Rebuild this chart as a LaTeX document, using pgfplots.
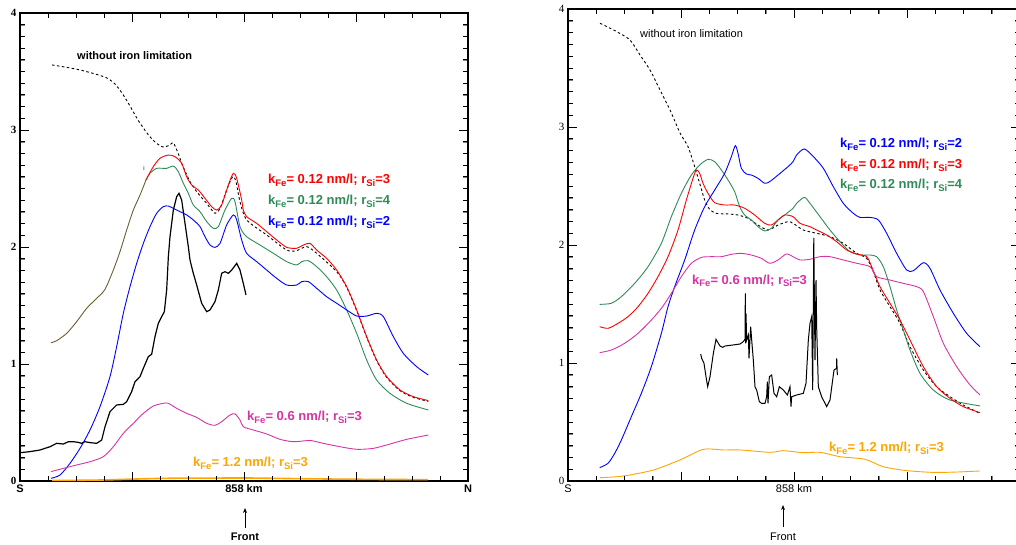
\documentclass[border=0pt]{standalone}
\usepackage{fontspec}
\setmainfont{Liberation Sans}
\newfontfamily\serifnum{Liberation Serif}
\usepackage{pgfplots}
\pgfplotsset{compat=1.18}
\usetikzlibrary{arrows.meta}

\definecolor{cred}{RGB}{255,0,0}
\definecolor{cgreen}{RGB}{46,139,87}
\definecolor{cblue}{RGB}{0,0,255}
\definecolor{cmag}{RGB}{214,51,164}
\definecolor{corange}{RGB}{255,165,0}
\definecolor{colive}{RGB}{105,95,50}

\newcommand{\sub}[1]{\raisebox{-3pt}{\fontsize{9.5}{10}\selectfont #1}}

\pgfplotsset{
  panel/.style={
    scale only axis, xmin=0, xmax=16, ymin=0, ymax=4,
    xtick={0,4,8,12,16}, xticklabels={S,,858 km,,N},
    minor x tick num=3,
    ytick={0,1,2,3,4}, yticklabels={0,1,2,3,4},
    minor y tick num=9,
    tick align=inside, tick pos=both,
    tickwidth=9pt, subtickwidth=5pt,
    axis line style={line width=1.1pt},
  },
  model/.style={line width=0.9pt, smooth, tension=0.45, mark=none},
  obs/.style={line width=1.2pt, black, mark=none},
}

\begin{document}
\begin{tikzpicture}
% ================= LEFT PANEL =================
\begin{axis}[panel, at={(20pt,63pt)}, anchor=south west, width=448pt, height=468pt,
  xticklabel style={font=\fontsize{11}{12}\selectfont\bfseries},
  yticklabel style={font=\fontsize{11}{12}\serifnum\bfseries}]
% without iron limitation
\addplot[model, black, dash pattern=on 2.5pt off 2.5pt] coordinates {
(1.143,3.556) (1.607,3.538) (2.143,3.513) (2.679,3.479) (3.107,3.444) (3.393,3.393) (3.643,3.316) (3.929,3.205) (4.214,3.085) (4.536,2.974) (4.821,2.897) (5.107,2.855) (5.357,2.872) (5.476,2.891) (5.65,2.80) (5.80,2.70) (5.952,2.62) (6.071,2.558) (6.310,2.473) (6.667,2.373) (6.964,2.288) (7.143,2.330) (7.381,2.487) (7.595,2.601) (7.714,2.558) (7.857,2.387) (8.095,2.231) (8.810,2.103) (9.524,1.974) (9.881,1.969) (10.238,2.003) (10.595,1.946) (11.310,1.789) (11.667,1.655) (12.024,1.456) (12.381,1.228) (12.738,1.028) (13.095,0.886) (13.571,0.772) (14.048,0.715) (14.583,0.681)};
% shared part of rSi=3 and rSi=4
\addplot[model, colive] coordinates {
(1.107,1.182) (1.310,1.199) (1.667,1.262) (2.024,1.362) (2.381,1.476) (2.738,1.561) (3.036,1.638) (3.333,1.803) (3.571,1.960) (3.810,2.145) (4.048,2.316) (4.286,2.444) (4.500,2.573)};
% kFe 0.12 rSi 4
\addplot[model, cgreen] coordinates {
(4.500,2.573) (4.643,2.630) (4.881,2.672) (5.238,2.672) (5.476,2.692) (5.655,2.644) (5.833,2.544) (6.012,2.459) (6.190,2.359) (6.429,2.302) (6.667,2.217) (6.905,2.160) (7.083,2.174) (7.321,2.316) (7.560,2.416) (7.679,2.387) (7.857,2.174) (8.095,2.088) (8.571,2.017) (9.048,1.946) (9.524,1.875) (9.881,1.846) (10.060,1.875) (10.298,1.883) (10.595,1.832) (10.952,1.746) (11.310,1.632) (11.667,1.462) (12.024,1.262) (12.381,1.034) (12.738,0.863) (13.214,0.749) (13.810,0.664) (14.583,0.607)};
% kFe 0.12 rSi 3
\addplot[model, cred] coordinates {
(4.500,2.573) (4.762,2.687) (5.000,2.758) (5.298,2.786) (5.536,2.772) (5.774,2.715) (5.952,2.601) (6.131,2.530) (6.369,2.487) (6.607,2.416) (6.845,2.345) (7.024,2.316) (7.202,2.359) (7.440,2.530) (7.619,2.630) (7.738,2.587) (7.917,2.402) (7.976,2.316) (8.095,2.259) (8.452,2.202) (8.810,2.131) (9.167,2.060) (9.524,1.997) (9.881,1.989) (10.119,2.017) (10.357,2.031) (10.595,1.974) (10.952,1.903) (11.310,1.803) (11.667,1.661) (12.024,1.462) (12.381,1.234) (12.738,1.034) (13.095,0.892) (13.571,0.778) (14.048,0.721) (14.583,0.687)};
% kFe 0.12 rSi 2
\addplot[model, cblue] coordinates {
(1.107,0.023) (1.429,0.051) (1.786,0.151) (2.143,0.279) (2.500,0.436) (2.857,0.635) (3.214,0.892) (3.452,1.148) (3.690,1.433) (3.929,1.661) (4.167,1.860) (4.405,2.031) (4.643,2.174) (4.881,2.288) (5.119,2.345) (5.298,2.350) (5.476,2.330) (5.714,2.302) (5.952,2.274) (6.190,2.231) (6.429,2.174) (6.607,2.088) (6.786,2.017) (6.964,1.997) (7.143,2.031) (7.381,2.188) (7.619,2.274) (7.738,2.231) (7.917,2.060) (8.095,1.946) (8.452,1.875) (8.810,1.803) (9.167,1.732) (9.524,1.675) (9.881,1.675) (10.060,1.704) (10.298,1.704) (10.595,1.647) (10.952,1.575) (11.310,1.519) (11.667,1.462) (12.024,1.410) (12.381,1.410) (12.738,1.433) (12.976,1.405) (13.333,1.234) (13.690,1.091) (14.167,0.977) (14.583,0.906)};
% kFe 0.6
\addplot[model, cmag] coordinates {
(1.107,0.080) (1.548,0.108) (2.024,0.137) (2.500,0.165) (2.976,0.208) (3.333,0.293) (3.690,0.407) (4.048,0.493) (4.405,0.578) (4.762,0.641) (5.119,0.664) (5.298,0.664) (5.595,0.621) (5.952,0.578) (6.310,0.544) (6.667,0.493) (6.964,0.476) (7.202,0.507) (7.500,0.564) (7.679,0.573) (7.857,0.521) (7.976,0.464) (8.333,0.436) (8.810,0.402) (9.286,0.356) (9.762,0.336) (10.238,0.345) (10.417,0.345) (10.833,0.322) (11.429,0.293) (12.024,0.271) (12.619,0.279) (13.214,0.316) (13.810,0.356) (14.583,0.393)};
% kFe 1.2
\addplot[model, corange, line width=1.6pt] coordinates {
(1.143,0.005) (2,0.006) (3,0.009) (4,0.016) (5,0.022) (6,0.025) (7,0.025) (8,0.026) (9,0.023) (10,0.020) (11,0.017) (12,0.015) (13,0.013) (14.57,0.012)};
% observations
\addplot[obs] coordinates {
(0,0.242) (0.357,0.251) (0.714,0.265) (1.071,0.293) (1.310,0.322) (1.548,0.316) (1.726,0.336) (1.905,0.336) (2.083,0.330) (2.202,0.322) (2.321,0.336) (2.500,0.328) (2.738,0.322) (2.917,0.350) (3.036,0.464) (3.214,0.593) (3.452,0.650) (3.690,0.655) (3.810,0.678) (3.988,0.764) (4.107,0.849) (4.286,0.892) (4.405,0.963) (4.583,1.063) (4.702,1.083) (4.821,1.234) (4.940,1.348) (5.060,1.405) (5.155,1.447) (5.238,1.632) (5.298,1.917) (5.357,2.088) (5.476,2.316) (5.595,2.430) (5.679,2.459) (5.774,2.402) (5.893,2.202) (6.012,2.003) (6.071,1.889) (6.190,1.775) (6.310,1.675) (6.488,1.519) (6.667,1.447) (6.786,1.462) (6.964,1.533) (7.083,1.632) (7.202,1.775) (7.321,1.789) (7.440,1.775) (7.560,1.803) (7.738,1.860) (7.857,1.803) (7.976,1.689) (8.071,1.590)};
\end{axis}

% ================= RIGHT PANEL =================
\begin{axis}[panel, at={(568pt,63pt)}, anchor=south west, width=452pt, height=472pt,
  xticklabel style={font=\fontsize{11}{12}\selectfont},
  yticklabel style={font=\fontsize{11}{12}\serifnum}]
\addplot[model, black, dash pattern=on 2.5pt off 2.5pt] coordinates {
(1.133,3.879) (1.724,3.808) (2.195,3.737) (2.549,3.610) (2.903,3.483) (3.257,3.314) (3.611,3.144) (3.965,2.949) (4.248,2.833) (4.484,2.664) (4.661,2.523) (4.838,2.381) (5.015,2.302) (5.251,2.268) (5.664,2.263) (6.018,2.254) (6.372,2.226) (6.726,2.169) (7.080,2.127) (7.434,2.169) (7.788,2.198) (7.965,2.184) (8.330,2.127) (8.802,2.099) (9.274,2.071) (9.746,2.014) (10.218,1.929) (10.572,1.887) (10.808,1.774) (11.044,1.619) (11.398,1.477) (11.752,1.336) (12.106,1.138) (12.578,0.941) (13.050,0.799) (13.522,0.715) (13.994,0.644) (14.584,0.573)};
\addplot[model, cgreen] coordinates {
(1.121,1.497) (1.534,1.506) (1.888,1.562) (2.360,1.675) (2.832,1.816) (3.304,2.014) (3.658,2.240) (4.012,2.438) (4.366,2.593) (4.661,2.678) (4.956,2.726) (5.192,2.706) (5.428,2.636) (5.664,2.551) (5.900,2.452) (6.077,2.325) (6.254,2.254) (6.490,2.212) (6.726,2.155) (6.962,2.119) (7.198,2.141) (7.434,2.212) (7.670,2.254) (7.965,2.311) (8.094,2.353) (8.365,2.404) (8.566,2.353) (8.920,2.240) (9.274,2.127) (9.628,2.028) (9.982,1.944) (10.336,1.915) (10.690,1.915) (10.926,1.901) (11.162,1.816) (11.398,1.647) (11.634,1.449) (11.870,1.280) (12.106,1.110) (12.460,0.912) (12.932,0.771) (13.522,0.686) (14.584,0.636)};
\addplot[model, cred] coordinates {
(1.121,1.308) (1.416,1.294) (1.770,1.336) (2.124,1.393) (2.478,1.477) (2.832,1.590) (3.186,1.732) (3.540,1.901) (3.894,2.127) (4.189,2.381) (4.425,2.565) (4.543,2.636) (4.661,2.607) (4.779,2.523) (4.956,2.438) (5.192,2.359) (5.546,2.339) (5.900,2.339) (6.254,2.311) (6.608,2.254) (6.962,2.184) (7.198,2.169) (7.434,2.212) (7.670,2.254) (7.965,2.240) (8.212,2.184) (8.566,2.155) (8.802,2.127) (9.156,2.085) (9.510,2.028) (9.864,1.958) (10.218,1.924) (10.572,1.901) (10.749,1.816) (11.044,1.647) (11.398,1.506) (11.752,1.364) (12.106,1.195) (12.578,0.969) (13.050,0.799) (13.522,0.701) (13.994,0.630) (14.584,0.579)};
\addplot[model, cblue] coordinates {
(1.121,0.113) (1.416,0.150) (1.652,0.234) (1.888,0.347) (2.242,0.545) (2.596,0.743) (2.950,0.969) (3.304,1.251) (3.540,1.477) (3.776,1.647) (4.130,1.873) (4.484,2.127) (4.838,2.325) (5.192,2.466) (5.546,2.607) (5.782,2.749) (5.923,2.842) (6.018,2.777) (6.136,2.650) (6.313,2.602) (6.490,2.593) (6.726,2.565) (6.962,2.523) (7.139,2.537) (7.434,2.593) (7.788,2.664) (7.965,2.706) (8.094,2.763) (8.365,2.814) (8.684,2.749) (9.038,2.650) (9.392,2.494) (9.746,2.353) (10.100,2.268) (10.336,2.234) (10.690,2.234) (10.985,2.212) (11.280,2.099) (11.634,1.929) (11.988,1.788) (12.224,1.782) (12.578,1.850) (12.814,1.802) (13.168,1.619) (13.640,1.421) (14.112,1.251) (14.584,1.138)};
\addplot[model, cmag] coordinates {
(1.121,1.088) (1.534,1.110) (2.006,1.167) (2.478,1.251) (2.950,1.364) (3.304,1.463) (3.658,1.590) (4.012,1.732) (4.366,1.845) (4.720,1.895) (5.074,1.901) (5.428,1.901) (5.782,1.921) (6.136,1.929) (6.490,1.915) (6.844,1.887) (7.139,1.845) (7.434,1.873) (7.729,1.924) (7.965,1.901) (8.212,1.873) (8.566,1.879) (8.920,1.901) (9.274,1.901) (9.746,1.873) (10.218,1.845) (10.690,1.816) (10.926,1.732) (11.398,1.703) (11.870,1.675) (12.342,1.647) (12.578,1.605) (12.932,1.393) (13.286,1.167) (13.758,0.969) (14.230,0.814) (14.584,0.729)};
\addplot[model, corange] coordinates {
(1.133,0.028) (1.958,0.042) (3.020,0.093) (3.960,0.178) (4.790,0.268) (5.500,0.263) (6.090,0.263) (7.150,0.243) (7.620,0.257) (8.330,0.240) (8.920,0.243) (9.630,0.206) (10.510,0.184) (11.160,0.121) (11.990,0.088) (12.930,0.073) (13.760,0.076) (14.580,0.085)};
\addplot[obs, line width=1pt] coordinates {
(4.696,1.076) (4.732,1.040) (4.814,0.997) (4.885,0.884) (4.944,0.799) (5.027,0.884) (5.145,1.082) (5.239,1.201) (5.322,1.167) (5.381,1.144) (5.475,1.133) (5.558,1.144) (5.852,1.153) (6.088,1.161) (6.206,1.181) (6.265,1.201) (6.277,1.590) (6.289,1.167) (6.300,1.421) (6.325,1.195) (6.384,1.237) (6.407,1.040) (6.466,1.308) (6.502,1.195) (6.560,1.025) (6.619,0.799) (6.678,0.771) (6.773,0.672) (6.855,0.658) (6.973,0.658) (7.032,0.714) (7.056,0.841) (7.080,0.658) (7.127,0.884) (7.209,0.898) (7.292,0.743) (7.386,0.714) (7.481,0.799) (7.622,0.771) (7.764,0.729) (7.858,0.799) (7.894,0.630) (7.917,0.714) (8.094,0.729) (8.330,0.743) (8.425,0.828) (8.507,1.195) (8.566,1.336) (8.626,1.393) (8.661,0.771) (8.684,1.506) (8.700,2.060) (8.743,1.025) (8.779,1.703) (8.802,1.308) (8.861,0.799) (8.979,0.714) (9.156,0.630) (9.274,0.686) (9.416,0.941) (9.511,0.955) (9.511,1.040) (9.534,0.898)};
\end{axis}

% ---------- tick marks on all four sides of both panels ----------
\begin{scope}[line width=0.9pt, black]
\foreach \i in {1,...,15} {
  \pgfmathsetmacro\len{mod(\i,4)==0 ? 9 : 5}
  \draw ({20pt+\i*28pt},63pt) -- ++(0pt,\len pt);
  \draw ({20pt+\i*28pt},531pt) -- ++(0pt,-\len pt);
  \draw ({568pt+\i*28.25pt},63pt) -- ++(0pt,\len pt);
  \draw ({568pt+\i*28.25pt},535pt) -- ++(0pt,-\len pt);
}
\foreach \j in {1,...,39} {
  \pgfmathsetmacro\len{mod(\j,10)==0 ? 9 : 5}
  \draw (20pt,{63pt+\j*11.7pt}) -- ++(\len pt,0pt);
  \draw (468pt,{63pt+\j*11.7pt}) -- ++(-\len pt,0pt);
  \draw (568pt,{63pt+\j*11.8pt}) -- ++(\len pt,0pt);
  \draw (1020pt,{63pt+\j*11.8pt}) -- ++(-\len pt,0pt);
}
\end{scope}

% ---------- annotations ----------
\begin{scope}[font=\fontsize{11}{12}\selectfont\bfseries, inner sep=0pt]
\node[anchor=base west] at (77pt,484pt) {without iron limitation};
\node[anchor=base west, text=cred, font=\fontsize{13}{14}\selectfont\bfseries] at (268pt,360pt) {k\sub{Fe}= 0.12 nm/l; r\sub{Si}=3};
\node[anchor=base west, text=cgreen, font=\fontsize{13}{14}\selectfont\bfseries] at (268pt,339pt) {k\sub{Fe}= 0.12 nm/l; r\sub{Si}=4};
\node[anchor=base west, text=cblue, font=\fontsize{13}{14}\selectfont\bfseries] at (268pt,318pt) {k\sub{Fe}= 0.12 nm/l; r\sub{Si}=2};
\node[anchor=base west, text=cmag, font=\fontsize{13}{14}\selectfont\bfseries] at (247pt,124pt) {k\sub{Fe}= 0.6 nm/l; r\sub{Si}=3};
\node[anchor=base west, text=corange, font=\fontsize{13}{14}\selectfont\bfseries] at (193pt,78pt) {k\sub{Fe}= 1.2 nm/l; r\sub{Si}=3};
\node[font=\fontsize{6}{6}\selectfont] at (144pt,376pt) {i};
\draw[line width=0.8pt, -{Stealth[length=5pt,width=4pt]}] (245pt,16pt) -- (245pt,36pt);
\node at (245pt,7pt) {Front};
\end{scope}
\begin{scope}[font=\fontsize{11}{12}\selectfont, inner sep=0pt]
\node[anchor=base west] at (640pt,506pt) {without iron limitation};
\node[anchor=base west, text=cblue, font=\fontsize{13}{14}\selectfont\bfseries] at (840pt,396pt) {k\sub{Fe}= 0.12 nm/l; r\sub{Si}=2};
\node[anchor=base west, text=cred, font=\fontsize{13}{14}\selectfont\bfseries] at (840pt,375pt) {k\sub{Fe}= 0.12 nm/l; r\sub{Si}=3};
\node[anchor=base west, text=cgreen, font=\fontsize{13}{14}\selectfont\bfseries] at (840pt,355pt) {k\sub{Fe}= 0.12 nm/l; r\sub{Si}=4};
\node[anchor=base west, text=cmag, font=\fontsize{13}{14}\selectfont\bfseries] at (692pt,260pt) {k\sub{Fe}= 0.6 nm/l; r\sub{Si}=3};
\node[anchor=base west, text=corange, font=\fontsize{13}{14}\selectfont\bfseries] at (829pt,93pt) {k\sub{Fe}= 1.2 nm/l; r\sub{Si}=3};
\draw[line width=0.8pt, -{Stealth[length=5pt,width=4pt]}] (783pt,17pt) -- (783pt,39pt);
\node at (783pt,7pt) {Front};
\end{scope}

\pgfresetboundingbox
\path[use as bounding box] (0pt,0pt) rectangle (1016pt,544pt);
\end{tikzpicture}
\end{document}
